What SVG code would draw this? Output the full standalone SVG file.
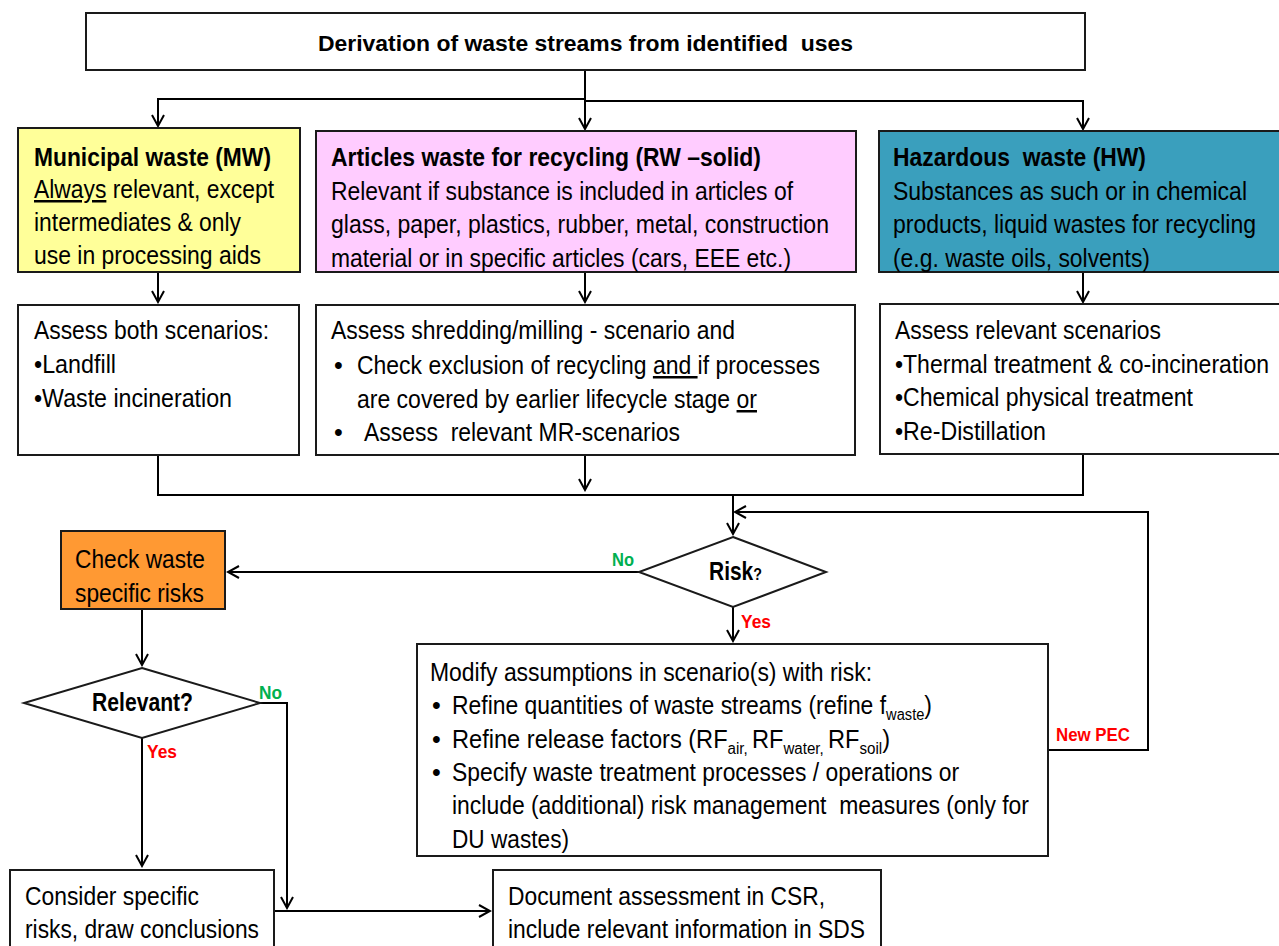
<svg xmlns="http://www.w3.org/2000/svg" width="1279" height="946" viewBox="0 0 1279 946">
<style>
text{font-family:"Liberation Sans Narrow","Liberation Sans",Arial,sans-serif;font-size:25px;fill:#000;white-space:pre}
.b{font-weight:bold}
.t{font-size:22px;font-weight:bold}
.box{stroke:#1a1a1a;stroke-width:2}
.ln{fill:none;stroke:#000;stroke-width:2}
.g{fill:#00B050;font-weight:bold;font-size:18px}
.r{fill:#FF0000;font-weight:bold;font-size:18px}
</style>
<defs>
<marker id="ah" markerWidth="14" markerHeight="14" refX="12" refY="7" orient="auto" markerUnits="userSpaceOnUse">
<path d="M1,1 L12,7 L1,13" fill="none" stroke="#000" stroke-width="2"/>
</marker>
</defs>

<g id="connectors">
<path class="ln" d="M585,70 V99 H158 V126" marker-end="url(#ah)"/>
<path class="ln" d="M585,70 V129" marker-end="url(#ah)"/>
<path class="ln" d="M585,101 H1083 V129" marker-end="url(#ah)"/>
<path class="ln" d="M158,272 V302" marker-end="url(#ah)"/>
<path class="ln" d="M585,272 V302" marker-end="url(#ah)"/>
<path class="ln" d="M1083,272 V302" marker-end="url(#ah)"/>
<path class="ln" d="M158,455 V495 H1083 V454"/>
<path class="ln" d="M585,455 V490" marker-end="url(#ah)"/>
<path class="ln" d="M733,495 V534" marker-end="url(#ah)"/>
<path class="ln" d="M639,572 H228" marker-end="url(#ah)"/>
<path class="ln" d="M733,607 V641" marker-end="url(#ah)"/>
<path class="ln" d="M1048,750 H1148 V512 H735" marker-end="url(#ah)"/>
<path class="ln" d="M142,609 V665" marker-end="url(#ah)"/>
<path class="ln" d="M142,738 V866" marker-end="url(#ah)"/>
<path class="ln" d="M260,703 H287 V908" marker-end="url(#ah)"/>
<path class="ln" d="M274,911 H490" marker-end="url(#ah)"/>
<text class="g" x="612" y="566" textLength="22" lengthAdjust="spacingAndGlyphs">No</text>
<text class="r" x="741" y="628" textLength="30" lengthAdjust="spacingAndGlyphs">Yes</text>
<text class="r" x="1056" y="741" textLength="74" lengthAdjust="spacingAndGlyphs">New PEC</text>
<text class="g" x="259" y="699" textLength="23" lengthAdjust="spacingAndGlyphs">No</text>
<text class="r" x="147" y="758" textLength="30" lengthAdjust="spacingAndGlyphs">Yes</text>
</g>

<g id="top">
<rect class="box" x="86" y="13" width="999" height="57" fill="#fff"/>
<text class="t" x="318" y="51" textLength="535" lengthAdjust="spacingAndGlyphs" xml:space="preserve">Derivation of waste streams from identified  uses</text>
</g>

<g id="mw">
<rect class="box" x="18" y="128" width="282" height="144" fill="#FFFF99"/>
<text class="b" x="34" y="166" textLength="237" lengthAdjust="spacingAndGlyphs">Municipal waste (MW)</text>
<text x="34" y="198" textLength="240" lengthAdjust="spacingAndGlyphs"><tspan text-decoration="underline">Always</tspan> relevant, except</text>
<text x="34" y="231" textLength="207" lengthAdjust="spacingAndGlyphs">intermediates &amp; only</text>
<text x="34" y="264" textLength="227" lengthAdjust="spacingAndGlyphs">use in processing aids</text>
</g>

<g id="rw">
<rect class="box" x="316" y="131" width="540" height="141" fill="#FFCCFF"/>
<text class="b" x="331" y="166" textLength="430" lengthAdjust="spacingAndGlyphs">Articles waste for recycling (RW –solid)</text>
<text x="331" y="200" textLength="462" lengthAdjust="spacingAndGlyphs">Relevant if substance is included in articles of</text>
<text x="331" y="233" textLength="498" lengthAdjust="spacingAndGlyphs">glass, paper, plastics, rubber, metal, construction</text>
<text x="331" y="267" textLength="460" lengthAdjust="spacingAndGlyphs">material or in specific articles (cars, EEE etc.)</text>
</g>

<g id="hw">
<rect class="box" x="879" y="131" width="412" height="141" fill="#3A9FBD"/>
<text class="b" x="893" y="166" textLength="253" lengthAdjust="spacingAndGlyphs" xml:space="preserve">Hazardous  waste (HW)</text>
<text x="893" y="200" textLength="354" lengthAdjust="spacingAndGlyphs">Substances as such or in chemical</text>
<text x="893" y="233" textLength="363" lengthAdjust="spacingAndGlyphs">products, liquid wastes for recycling</text>
<text x="893" y="267" textLength="257" lengthAdjust="spacingAndGlyphs">(e.g. waste oils, solvents)</text>
</g>

<g id="mw2">
<rect class="box" x="18" y="305" width="281" height="150" fill="#fff"/>
<text x="34" y="339" textLength="235" lengthAdjust="spacingAndGlyphs">Assess both scenarios:</text>
<text x="34" y="373" textLength="82" lengthAdjust="spacingAndGlyphs">•Landfill</text>
<text x="34" y="407" textLength="198" lengthAdjust="spacingAndGlyphs">•Waste incineration</text>
</g>

<g id="rw2">
<rect class="box" x="316" y="305" width="539" height="150" fill="#fff"/>
<text x="331" y="339" textLength="404" lengthAdjust="spacingAndGlyphs">Assess shredding/milling - scenario and</text>
<text x="334" y="374">•</text>
<text x="357" y="374" textLength="463" lengthAdjust="spacingAndGlyphs">Check exclusion of recycling <tspan text-decoration="underline">and </tspan>if processes</text>
<text x="357" y="408" textLength="400" lengthAdjust="spacingAndGlyphs">are covered by earlier lifecycle stage <tspan text-decoration="underline">or</tspan></text>
<text x="334" y="441">•</text>
<text x="364" y="441" textLength="316" lengthAdjust="spacingAndGlyphs" xml:space="preserve">Assess  relevant MR-scenarios</text>
</g>

<g id="hw2">
<rect class="box" x="880" y="304" width="411" height="150" fill="#fff"/>
<text x="895" y="339" textLength="266" lengthAdjust="spacingAndGlyphs">Assess relevant scenarios</text>
<text x="895" y="373" textLength="374" lengthAdjust="spacingAndGlyphs">•Thermal treatment &amp; co-incineration</text>
<text x="895" y="406" textLength="298" lengthAdjust="spacingAndGlyphs">•Chemical physical treatment</text>
<text x="895" y="440" textLength="151" lengthAdjust="spacingAndGlyphs">•Re-Distillation</text>
</g>

<g id="risk">
<polygon class="box" points="733,537 826,572 733,607 639,572" fill="#fff"/>
<text class="b" x="709" y="580" font-size="24" textLength="53" lengthAdjust="spacingAndGlyphs">Risk<tspan font-size="17">?</tspan></text>
</g>

<g id="check">
<rect class="box" x="61" y="531" width="164" height="78" fill="#FF9933"/>
<text x="75" y="568" textLength="130" lengthAdjust="spacingAndGlyphs">Check waste</text>
<text x="75" y="602" textLength="129" lengthAdjust="spacingAndGlyphs">specific risks</text>
</g>

<g id="relevant">
<polygon class="box" points="142,668 260,703 142,738 24,703" fill="#fff"/>
<text class="b" x="92" y="711" font-size="23" textLength="101" lengthAdjust="spacingAndGlyphs">Relevant?</text>
</g>

<g id="modify">
<rect class="box" x="417" y="644" width="631" height="212" fill="#fff"/>
<text x="430" y="681" textLength="442" lengthAdjust="spacingAndGlyphs">Modify assumptions in scenario(s) with risk:</text>
<text x="432" y="714">•</text>
<text x="452" y="714" textLength="480" lengthAdjust="spacingAndGlyphs">Refine quantities of waste streams (refine f<tspan font-size="16" dy="6">waste</tspan><tspan dy="-6">)</tspan></text>
<text x="432" y="748">•</text>
<text x="452" y="748" textLength="438" lengthAdjust="spacingAndGlyphs">Refine release factors (RF<tspan font-size="16" dy="6">air, </tspan><tspan dy="-6">RF</tspan><tspan font-size="16" dy="6">water, </tspan><tspan dy="-6">RF</tspan><tspan font-size="16" dy="6">soil</tspan><tspan dy="-6">)</tspan></text>
<text x="432" y="781">•</text>
<text x="452" y="781" textLength="507" lengthAdjust="spacingAndGlyphs">Specify waste treatment processes / operations or</text>
<text x="452" y="814" textLength="577" lengthAdjust="spacingAndGlyphs" xml:space="preserve">include (additional) risk management  measures (only for</text>
<text x="452" y="848" textLength="117" lengthAdjust="spacingAndGlyphs">DU wastes)</text>
</g>

<g id="consider">
<rect class="box" x="10" y="870" width="264" height="90" fill="#fff"/>
<text x="25" y="905" textLength="174" lengthAdjust="spacingAndGlyphs">Consider specific</text>
<text x="25" y="938" textLength="234" lengthAdjust="spacingAndGlyphs">risks, draw conclusions</text>
</g>

<g id="document">
<rect class="box" x="493" y="870" width="388" height="90" fill="#fff"/>
<text x="508" y="905" textLength="317" lengthAdjust="spacingAndGlyphs">Document assessment in CSR,</text>
<text x="508" y="938" textLength="357" lengthAdjust="spacingAndGlyphs">include relevant information in SDS</text>
</g>
</svg>
